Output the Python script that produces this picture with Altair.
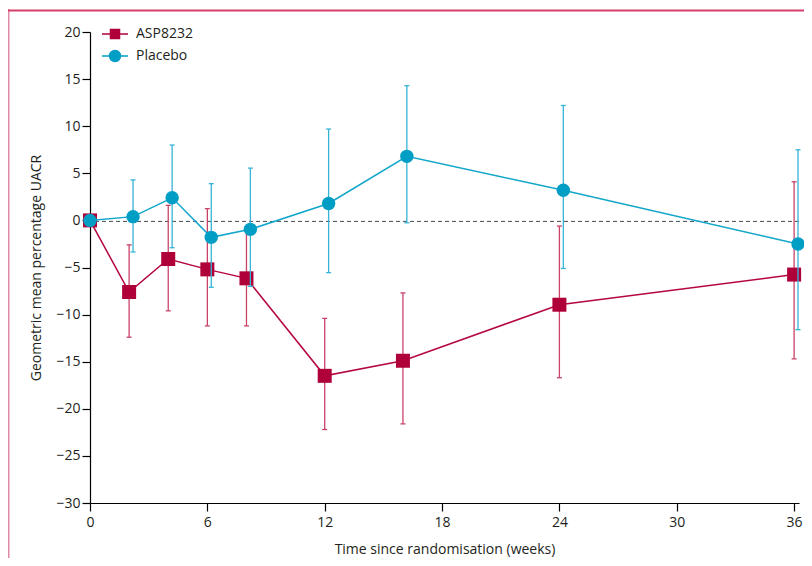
import altair as alt
import pandas as pd

# ---------------- data ----------------
weeks = [0, 2, 4, 6, 8, 12, 16, 24, 36]
series_names = ["ASP8232", "Placebo"]

asp_mean = [0, -7.6, -4.1, -5.2, -6.15, -16.5, -14.9, -8.95, -5.75]
asp_lo = [None, -12.4, -9.6, -11.2, -11.2, -22.2, -21.6, -16.7, -14.7]
asp_hi = [None, -2.6, 1.6, 1.25, -1.0, -10.4, -7.7, -0.6, 4.1]

plc_mean = [0, 0.4, 2.4, -1.8, -0.95, 1.8, 6.8, 3.2, -2.5]
plc_lo = [None, -3.35, -2.9, -7.1, -7.0, -5.55, -0.25, -5.1, -11.6]
plc_hi = [None, 4.3, 8.0, 3.9, 5.55, 9.7, 14.3, 12.2, 7.5]

x_ticks = [0, 6, 12, 18, 24, 30, 36]
y_ticks = [-30, -25, -20, -15, -10, -5, 0, 5, 10, 15, 20]
zero_ref = [0]

# ---------------- build table ----------------
rows = []
for name, means, los, his in [
    ("ASP8232", asp_mean, asp_lo, asp_hi),
    ("Placebo", plc_mean, plc_lo, plc_hi),
]:
    for w, m, lo, hi in zip(weeks, means, los, his):
        rows.append({"series": name, "week": w, "mean": m, "lo": lo, "hi": hi})
df = pd.DataFrame(rows)

FONT = "Open Sans"
TXT = "#231f20"
ASP_C = "#b0003a"
ASP_LINE = "#b5073f"
ASP_BAR = "#c8436a"
PLC_C = "#009ec4"
PLC_LINE = "#12a6ca"
PLC_BAR = "#36b4d6"

x_scale = alt.Scale(domain=[0, 36.25], nice=False, zero=False)
y_scale = alt.Scale(domain=[-30, 20], nice=False, zero=False)

x_axis = alt.Axis(values=x_ticks, title="Time since randomisation (weeks)", grid=False, labelFlush=False)
y_axis = alt.Axis(values=y_ticks, title="Geometric mean percentage UACR", grid=False)


def X(field="wx"):
    return alt.X(f"{field}:Q", scale=x_scale, axis=x_axis)


def Y(field):
    return alt.Y(f"{field}:Q", scale=y_scale, axis=y_axis)


base = alt.Chart(df).transform_calculate(
    wx="datum.series === 'Placebo' && datum.week > 0 ? datum.week + 0.2 : datum.week"
)


def series_layers(name, marker_color, line_color, bar_color, shape, size):
    s = base.transform_filter(alt.datum.series == name)
    bars = s.transform_filter("isValid(datum.lo)")
    vbar = bars.mark_rule(color=bar_color, strokeWidth=1.3).encode(
        x=X(), y=Y("lo"), y2="hi:Q"
    )
    cap_lo = bars.mark_rule(color=bar_color, strokeWidth=1.3, xOffset=-2.5, x2Offset=2.5).encode(
        x=X(), x2="wx:Q", y=Y("lo")
    )
    cap_hi = bars.mark_rule(color=bar_color, strokeWidth=1.3, xOffset=-2.5, x2Offset=2.5).encode(
        x=X(), x2="wx:Q", y=Y("hi")
    )
    line = s.mark_line(color=line_color, strokeWidth=1.5).encode(
        x=X(), y=Y("mean"), order="week:Q"
    )
    pts = s.mark_point(
        filled=True, shape=shape, size=size, color=marker_color, opacity=1
    ).encode(x=X(), y=Y("mean"))
    return [vbar, cap_lo, cap_hi, line, pts]


zero_line = alt.Chart(pd.DataFrame({"z": zero_ref})).mark_rule(
    strokeDash=[4, 3], color="#3f4b55", strokeWidth=1, yOffset=1
).encode(y=Y("z"))

# legend: line-through-marker symbols (10px symbol box)
sq_path = "M-2.6,0H2.6M-0.9,-0.9H0.9V0.9H-0.9Z"
circ_path = "M-2.6,0H2.6M-1.1,0A1.1,1.1,0,1,0,1.1,0A1.1,1.1,0,1,0,-1.1,0Z"
leg = alt.Legend(
    title=None,
    orient="none",
    legendX=18,
    legendY=-5,
    symbolSize=100,
    symbolStrokeWidth=1.5,
    labelFont=FONT,
    labelFontSize=14,
    labelColor=TXT,
    labelOffset=14,
    rowPadding=5,
    padding=0,
)
legend_layer = (
    alt.Chart(df)
    .transform_filter("datum.week < 0")
    .mark_point(filled=True, opacity=1)
    .encode(
        color=alt.Color("series:N", scale=alt.Scale(domain=series_names, range=[ASP_C, PLC_C]), legend=leg),
        stroke=alt.Stroke("series:N", scale=alt.Scale(domain=series_names, range=[ASP_C, PLC_C]), legend=leg),
        shape=alt.Shape("series:N", scale=alt.Scale(domain=series_names, range=[sq_path, circ_path]), legend=leg),
    )
)

# figure frame (pink border of the original panel)
frame_df = pd.DataFrame({"a": [0]})
frame_left = alt.Chart(frame_df).mark_rule(color="#e08aa4", strokeWidth=3).encode(
    x=alt.value(-82), y=alt.value(-23), y2=alt.value(560)
)
frame_top = alt.Chart(frame_df).mark_rule(color="#d6416b", strokeWidth=2).encode(
    x=alt.value(-83), x2=alt.value(800), y=alt.value(-21.5)
)

layers = (
    [zero_line]
    + series_layers("ASP8232", ASP_C, ASP_LINE, ASP_BAR, "square", 196)
    + series_layers("Placebo", PLC_C, PLC_LINE, PLC_BAR, "circle", 180)
    + [legend_layer, frame_left, frame_top]
)

chart = (
    alt.layer(*layers)
    .properties(
        width=709,
        height=471,
        autosize=alt.AutoSizeParams(type="none"),
        padding={"left": 82, "top": 24, "right": 5, "bottom": 55},
    )
    .configure_view(stroke=None)
    .configure_axis(
        domainColor="black",
        domainWidth=1.2,
        tickColor="black",
        tickWidth=1.2,
        tickSize=8,
        labelFont=FONT,
        labelFontSize=14,
        labelColor=TXT,
        labelPadding=2,
        titleFont=FONT,
        titleFontSize=14,
        titleFontWeight="normal",
        titleColor=TXT,
    )
    .configure_axisX(titlePadding=13, labelPadding=4)
    .configure_axisY(titlePadding=12)
)

chart.save("out.html", embed_options={"renderer": "svg", "actions": False})
